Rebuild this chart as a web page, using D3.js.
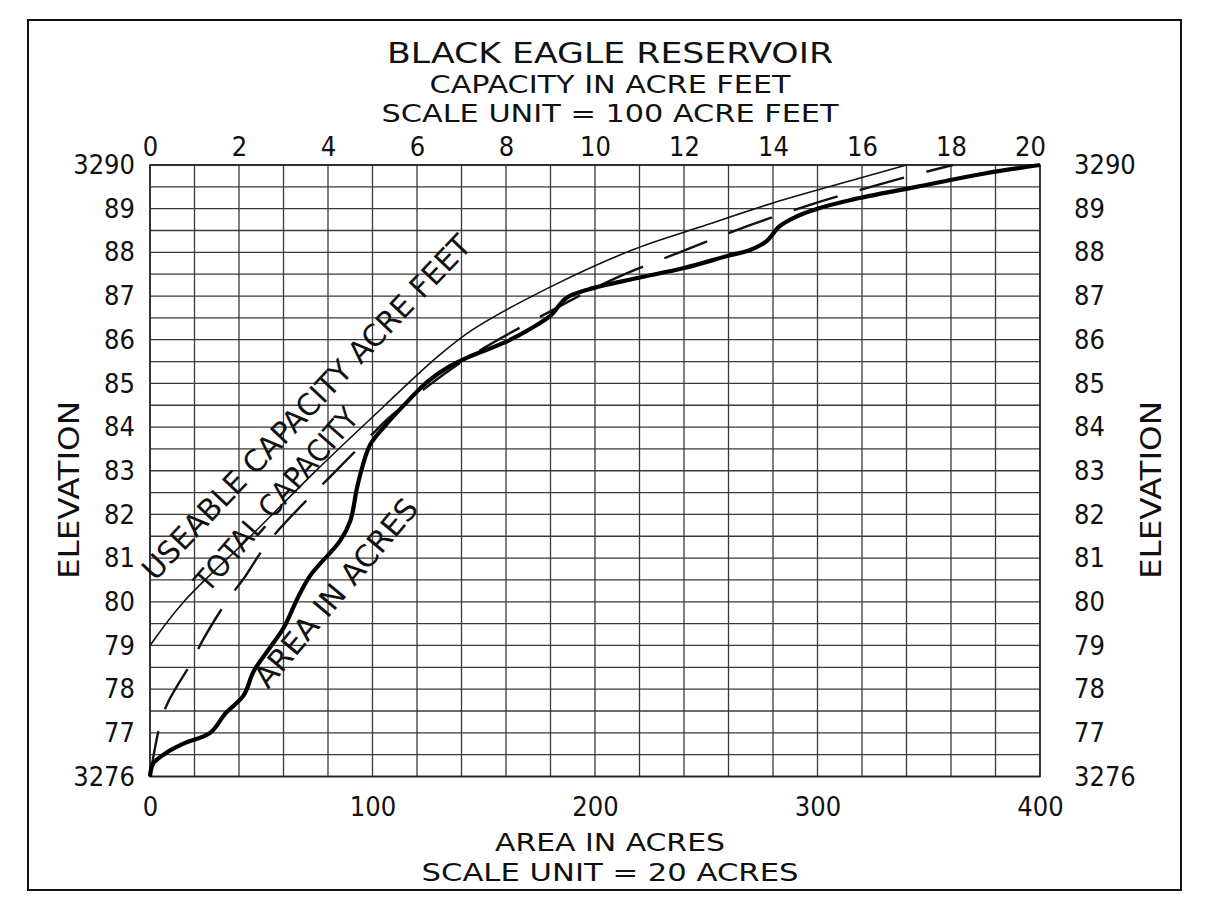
<!DOCTYPE html>
<html><head><meta charset="utf-8">
<script src="https://cdn.jsdelivr.net/npm/d3@7"></script>
<style>
body{margin:0;background:#fff}
svg text{font-family:'DejaVu Sans Condensed','Liberation Sans Narrow','Liberation Sans',Arial,sans-serif;fill:#111}
</style>
</head><body><svg id="c" width="1209" height="909"></svg>
<script>
// ---------- data ----------
const titleLines = ["BLACK EAGLE RESERVOIR", "CAPACITY IN ACRE FEET", "SCALE UNIT = 100 ACRE FEET"];
const bottomLines = ["AREA IN ACRES", "SCALE UNIT = 20 ACRES"];
const elevationTicks = [3276,3277,3278,3279,3280,3281,3282,3283,3284,3285,3286,3287,3288,3289,3290];
const elevationLabels = ["3276","77","78","79","80","81","82","83","84","85","86","87","88","89","3290"];
const capacityTicks = [0,2,4,6,8,10,12,14,16,18,20];
const areaTicks = [0,100,200,300,400];

// Area in acres (thick line): elevation / acres
const areaElev  = [3276.0,3276.3,3276.55,3276.75,3277.0,3277.45,3277.85,3278.4,3278.85,3279.4,3280.1,3280.6,3281.4,3281.85,3282.6,3283.1,3283.6,3284.05,3284.6,3285.05,3285.4,3285.6,3285.95,3286.25,3286.55,3286.95,3287.15,3287.4,3287.64,3287.91,3288.06,3288.25,3288.6,3288.82,3289.0,3289.2,3289.5,3289.8,3290.0];
const areaAcres = [0,1.5,7.5,15,27,34,42,46.5,52.5,60,66.5,72,85.5,90,93,95.5,99,106,116,125,135,143,160,171,180,187,197,218,240,259,270,277,283,290.5,300,315,344.5,374.5,400];

// Useable capacity (thin line): elevation / scale units of 100 acre feet
const useableElev  = [3279.0,3279.98,3281.49,3283.02,3284.46,3285.0,3285.6,3286.23,3287.21,3288.06,3288.58,3289.13,3289.7,3290.0];
const useableUnits = [0,0.74,2.25,3.75,5.24,5.8,6.45,7.25,9.0,10.85,12.36,14.0,15.96,17.0];

// Total capacity (dashed line): elevation / scale units of 100 acre feet
const totalElev  = [3276.0,3277.17,3277.69,3278.63,3279.13,3280.05,3280.51,3281.42,3283.02,3283.78,3284.23,3285.47,3286.61,3287.37,3287.99,3288.6,3289.11,3289.43,3289.73,3290.0];
const totalUnits = [0,0.22,0.40,0.94,1.19,1.75,2.09,2.70,4.20,4.94,5.39,6.97,8.92,10.38,11.87,13.42,14.90,15.96,17.01,18.04];

// ---------- drawing ----------
const FONT = "'DejaVu Sans Condensed','Liberation Sans Narrow','Liberation Sans',Arial,sans-serif";
const svg = d3.select("#c");
const L = 150, R = 1040, T = 165, B = 776.5;
const xArea = d3.scaleLinear().domain([0,400]).range([L,R]);
const xCap  = d3.scaleLinear().domain([0,20]).range([L,R]);
const y     = d3.scaleLinear().domain([3276,3290]).range([B,T]);

// outer frame
svg.append("rect").attr("x",28).attr("y",20).attr("width",1153).attr("height",870)
  .attr("fill","none").attr("stroke","#111").attr("stroke-width",2);

// grid
const g = svg.append("g");
g.selectAll("line.h").data(y.ticks(28)).join("line")
  .attr("x1",L).attr("x2",R).attr("y1",d=>y(d)).attr("y2",d=>y(d))
  .attr("stroke","#3a3a3a").attr("stroke-width",1.3);
g.selectAll("line.v").data(xArea.ticks(20)).join("line")
  .attr("y1",T).attr("y2",B).attr("x1",d=>xArea(d)).attr("x2",d=>xArea(d))
  .attr("stroke","#3a3a3a").attr("stroke-width",1.3);
g.append("rect").attr("x",L).attr("y",T).attr("width",R-L).attr("height",B-T)
  .attr("fill","none").attr("stroke","#222").attr("stroke-width",1.6);

// axes labels (d3 axes, lines hidden)
function styleAxis(sel){ sel.select(".domain").remove(); sel.selectAll(".tick line").remove();
  sel.selectAll(".tick text").attr("font-size",27).attr("fill","#111").style("font-family",FONT); }

const leftAxis = d3.axisLeft(y).tickValues(elevationTicks).tickFormat((d,i)=>elevationLabels[i]).tickSize(0).tickPadding(15);
svg.append("g").attr("transform",`translate(${L},0)`).call(leftAxis).call(styleAxis);
const rightAxis = d3.axisRight(y).tickValues(elevationTicks).tickFormat((d,i)=>elevationLabels[i]).tickSize(0).tickPadding(34);
svg.append("g").attr("transform",`translate(${R},0)`).call(rightAxis).call(styleAxis);
const topAxis = d3.axisTop(xCap).tickValues(capacityTicks).tickFormat(d=>String(d)).tickSize(0).tickPadding(9);
const topG = svg.append("g").attr("transform",`translate(0,${T})`).call(topAxis).call(styleAxis);
topG.selectAll(".tick text").filter(d=>d===20).attr("dx",-10);
const botAxis = d3.axisBottom(xArea).tickValues(areaTicks).tickFormat(d=>String(d)).tickSize(0).tickPadding(20);
svg.append("g").attr("transform",`translate(0,${B})`).call(botAxis).call(styleAxis);

// titles
const titleY = [63, 93, 122], titleW = [446, 361, 457], titleF = [28, 25, 25];
titleLines.forEach((t,i)=>{
  svg.append("text").attr("x",610).attr("y",titleY[i]).attr("text-anchor","middle")
    .attr("font-size",titleF[i]).attr("textLength",titleW[i]).attr("lengthAdjust","spacingAndGlyphs").text(t);
});
const botY = [851, 881], botW = [230, 377];
bottomLines.forEach((t,i)=>{
  svg.append("text").attr("x",610).attr("y",botY[i]).attr("text-anchor","middle")
    .attr("font-size",25).attr("textLength",botW[i]).attr("lengthAdjust","spacingAndGlyphs").text(t);
});
// ELEVATION side labels
svg.append("text").attr("transform","translate(79,490) rotate(-90)").attr("text-anchor","middle")
  .attr("font-size",28).attr("textLength",178).attr("lengthAdjust","spacingAndGlyphs").text("ELEVATION");
svg.append("text").attr("transform","translate(1161,490) rotate(-90)").attr("text-anchor","middle")
  .attr("font-size",28).attr("textLength",178).attr("lengthAdjust","spacingAndGlyphs").text("ELEVATION");

// curves
const lineCap = d3.line().x(d=>xCap(d[1])).y(d=>y(d[0])).curve(d3.curveCatmullRom.alpha(0.5));
const lineArea = d3.line().x(d=>xArea(d[1])).y(d=>y(d[0])).curve(d3.curveCatmullRom.alpha(0.5));

svg.append("path").datum(useableElev.map((e,i)=>[e,useableUnits[i]])).attr("d",lineCap)
  .attr("fill","none").attr("stroke","#111").attr("stroke-width",1.6);
svg.append("path").datum(totalElev.map((e,i)=>[e,totalUnits[i]])).attr("d",lineCap)
  .attr("fill","none").attr("stroke","#111").attr("stroke-width",2.4).attr("stroke-dasharray","46,23");
svg.append("path").datum(areaElev.map((e,i)=>[e,areaAcres[i]])).attr("d",lineArea)
  .attr("fill","none").attr("stroke","#000").attr("stroke-width",4.2).attr("stroke-linejoin","round");

// curve labels
function curveLabel(txt,x,yy,ang,len,fs){
  svg.append("text").attr("transform",`translate(${x},${yy}) rotate(${ang})`)
    .attr("font-size",fs).attr("textLength",len).attr("lengthAdjust","spacingAndGlyphs").text(txt);
}
curveLabel("USEABLE CAPACITY ACRE FEET",155,582,-46.5,462,30);
curveLabel("TOTAL CAPACITY",208,594,-49,232,30);
curveLabel("AREA IN ACRES",268,690,-50,236,30);
</script></body></html>
